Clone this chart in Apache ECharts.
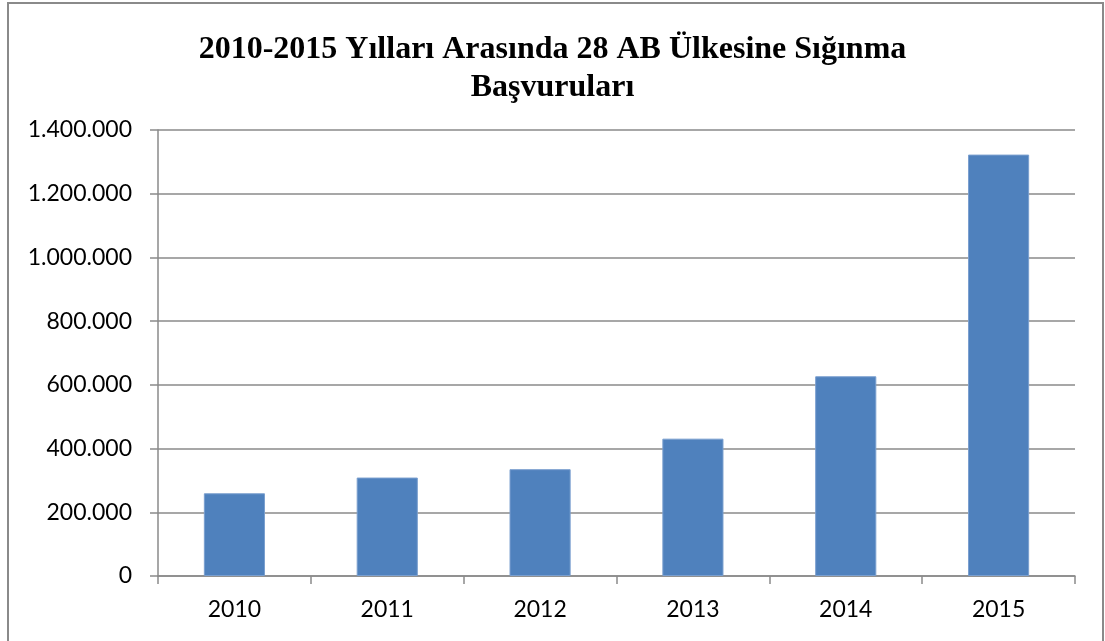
<!DOCTYPE html>
<html>
<head>
<meta charset="utf-8">
<script src="https://cdn.jsdelivr.net/npm/echarts@6/dist/echarts.min.js"></script>
<style>
html,body{margin:0;padding:0;background:#fff;}
#c{width:1105px;height:641px;}
</style>
</head>
<body>
<div id="c"></div>
<script>
const titleText = "2010-2015 Yılları Arasında 28 AB Ülkesine Sığınma\nBaşvuruları";
const categories = ["2010", "2011", "2012", "2013", "2014", "2015"];
const applications = [259630, 309040, 335290, 431090, 626960, 1322825];
const yMin = 0, yMax = 1400000, yStep = 200000;

function fmt(v) {
  return String(v).replace(/\B(?=(\d{3})+(?!\d))/g, ".");
}

const chart = echarts.init(document.getElementById('c'), null, {renderer: 'canvas'});
chart.setOption({
  backgroundColor: '#ffffff',
  animation: false,
  graphic: [{
    type: 'rect',
    shape: {x: 8, y: 3, width: 1095, height: 700},
    style: {fill: 'none', stroke: '#8a8a8a', lineWidth: 2},
    silent: true,
    z: 100
  }],
  title: {
    text: titleText,
    left: 'center',
    top: 26,
    textStyle: {
      fontFamily: 'Liberation Serif',
      fontWeight: 'bold',
      fontSize: 32,
      lineHeight: 38,
      color: '#000'
    }
  },
  grid: {left: 158, right: 30, top: 130, bottom: 65, containLabel: false},
  xAxis: {
    type: 'category',
    data: categories,
    axisLine: {show: true, lineStyle: {color: '#8a8a8a', width: 1.5}},
    axisTick: {show: true, length: 8, lineStyle: {color: '#8a8a8a', width: 1.5}},
    axisLabel: {color: '#000', fontFamily: 'Lato', fontSize: 23, margin: 22}
  },
  yAxis: {
    type: 'value',
    min: yMin, max: yMax, interval: yStep,
    axisLine: {show: true, lineStyle: {color: '#8a8a8a', width: 1.5}},
    axisTick: {show: true, length: 8, lineStyle: {color: '#8a8a8a', width: 1.5}},
    splitLine: {show: true, lineStyle: {color: '#8a8a8a', width: 1.5}},
    axisLabel: {color: '#000', fontFamily: 'Lato', fontSize: 23, margin: 26, formatter: fmt}
  },
  series: [{
    type: 'bar',
    data: applications,
    barWidth: '40%',
    itemStyle: {color: '#4f81bd', borderColor: '#7a9fcf', borderWidth: 1}
  }]
});
</script>
</body>
</html>
